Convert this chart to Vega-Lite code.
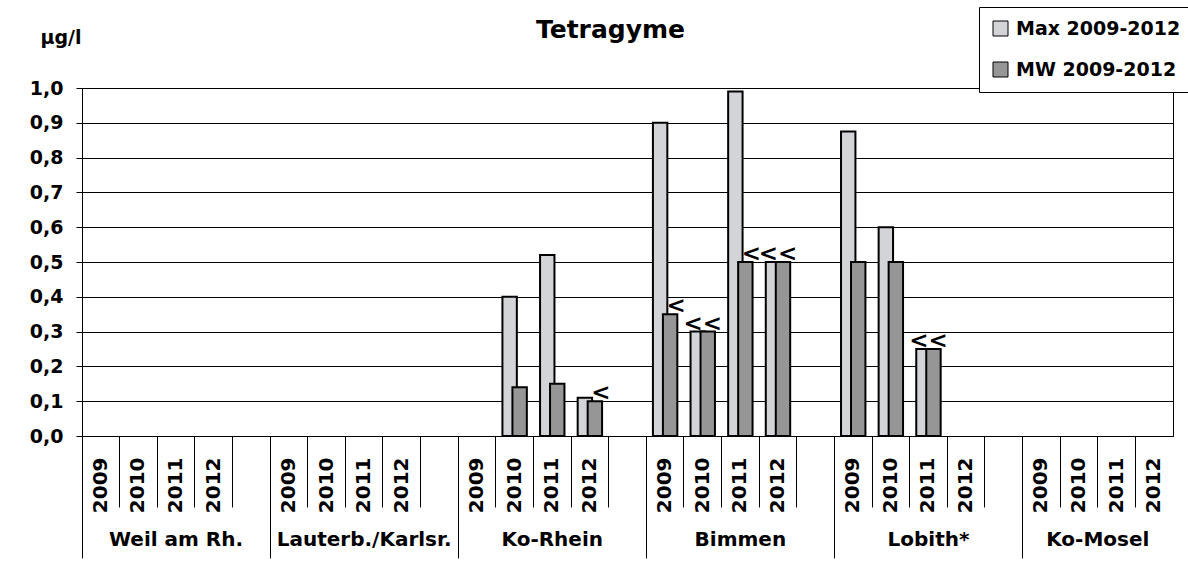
{
  "$schema": "https://vega.github.io/schema/vega-lite/v6.json",
  "width": 1091,
  "height": 348,
  "autosize": {"type": "none"},
  "padding": {"left": 82, "top": 88, "right": 15, "bottom": 131},
  "background": "white",
  "title": {"text": "Tetragyme", "font": "DejaVu Sans", "fontSize": 25, "fontWeight": "bold", "color": "black", "anchor": "middle", "dx": -17, "baseline": "alphabetic", "offset": 0, "dy": 56},
  "config": {"font": "DejaVu Sans", "view": {"stroke": "black", "strokeWidth": 1}},
  "data": {"values": [
    {"slot": "Ko-Rhein|2010", "series": "Max 2009-2012", "value": 0.40, "lt": ""},
    {"slot": "Ko-Rhein|2010", "series": "MW 2009-2012", "value": 0.14, "lt": ""},
    {"slot": "Ko-Rhein|2011", "series": "Max 2009-2012", "value": 0.52, "lt": ""},
    {"slot": "Ko-Rhein|2011", "series": "MW 2009-2012", "value": 0.15, "lt": ""},
    {"slot": "Ko-Rhein|2012", "series": "Max 2009-2012", "value": 0.11, "lt": ""},
    {"slot": "Ko-Rhein|2012", "series": "MW 2009-2012", "value": 0.10, "lt": "<"},
    {"slot": "Bimmen|2009", "series": "Max 2009-2012", "value": 0.90, "lt": ""},
    {"slot": "Bimmen|2009", "series": "MW 2009-2012", "value": 0.35, "lt": "<"},
    {"slot": "Bimmen|2010", "series": "Max 2009-2012", "value": 0.30, "lt": ""},
    {"slot": "Bimmen|2010", "series": "MW 2009-2012", "value": 0.30, "lt": "<<"},
    {"slot": "Bimmen|2011", "series": "Max 2009-2012", "value": 0.99, "lt": ""},
    {"slot": "Bimmen|2011", "series": "MW 2009-2012", "value": 0.50, "lt": "<"},
    {"slot": "Bimmen|2012", "series": "Max 2009-2012", "value": 0.50, "lt": ""},
    {"slot": "Bimmen|2012", "series": "MW 2009-2012", "value": 0.50, "lt": "<<"},
    {"slot": "Lobith*|2009", "series": "Max 2009-2012", "value": 0.875, "lt": ""},
    {"slot": "Lobith*|2009", "series": "MW 2009-2012", "value": 0.50, "lt": ""},
    {"slot": "Lobith*|2010", "series": "Max 2009-2012", "value": 0.60, "lt": ""},
    {"slot": "Lobith*|2010", "series": "MW 2009-2012", "value": 0.50, "lt": ""},
    {"slot": "Lobith*|2011", "series": "Max 2009-2012", "value": 0.25, "lt": ""},
    {"slot": "Lobith*|2011", "series": "MW 2009-2012", "value": 0.25, "lt": "<<"}
  ]},
  "layer": [
    {
      "transform": [{"filter": "datum.series == 'Max 2009-2012'"}],
      "mark": {"type": "bar", "width": {"band": 0.383}, "xOffset": -5, "stroke": "black", "strokeWidth": 2},
      "encoding": {
        "x": {"field": "slot", "type": "nominal",
          "scale": {"domain": [
            "Weil am Rh.|2009","Weil am Rh.|2010","Weil am Rh.|2011","Weil am Rh.|2012","Weil am Rh.|",
            "Lauterb./Karlsr.|2009","Lauterb./Karlsr.|2010","Lauterb./Karlsr.|2011","Lauterb./Karlsr.|2012","Lauterb./Karlsr.|",
            "Ko-Rhein|2009","Ko-Rhein|2010","Ko-Rhein|2011","Ko-Rhein|2012","Ko-Rhein|",
            "Bimmen|2009","Bimmen|2010","Bimmen|2011","Bimmen|2012","Bimmen|",
            "Lobith*|2009","Lobith*|2010","Lobith*|2011","Lobith*|2012","Lobith*|",
            "Ko-Mosel|2009","Ko-Mosel|2010","Ko-Mosel|2011","Ko-Mosel|2012"],
            "paddingInner": 0, "paddingOuter": 0},
          "axis": {"orient": "bottom", "title": null, "labels": false, "ticks": true, "tickSize": 71, "tickColor": "black", "tickWidth": 1, "bandPosition": 0, "tickExtra": false, "domain": true, "domainColor": "black", "domainWidth": 1, "grid": false}
        },
        "y": {"field": "value", "type": "quantitative", "scale": {"domain": [0, 1], "nice": false},
          "axis": {"orient": "left", "title": "µg/l", "titleAngle": 0, "titleAlign": "left", "titleBaseline": "alphabetic", "titleX": -42, "titleY": -45,
            "titleFont": "DejaVu Sans", "titleFontWeight": "bold", "titleFontSize": 19, "titleColor": "black",
            "values": [0, 0.1, 0.2, 0.3, 0.4, 0.5, 0.6, 0.7, 0.8, 0.9, 1.0], "labelOverlap": false,
            "labelExpr": "replace(format(datum.value, '.1f'), '.', ',')",
            "labelFont": "DejaVu Sans", "labelFontSize": 19, "labelFontWeight": "bold", "labelColor": "black", "labelPadding": 13,
            "tickSize": 6, "tickColor": "black", "domainColor": "black", "grid": true, "gridColor": "black", "gridWidth": 1, "gridOpacity": 1}
        },
        "color": {"field": "series", "type": "nominal",
          "scale": {"domain": ["Max 2009-2012", "MW 2009-2012"], "range": ["#d3d4d8", "#969696"]},
          "legend": {"orient": "none", "legendX": 897, "legendY": -81, "title": null, "symbolType": "square", "symbolSize": 225,
            "symbolStrokeColor": "black", "symbolStrokeWidth": 1, "symbolOpacity": 1,
            "labelFont": "DejaVu Sans", "labelFontWeight": "bold", "labelFontSize": 19, "labelColor": "black", "labelOffset": 6, "labelLimit": 400,
            "rowPadding": 21, "padding": 12, "strokeColor": "black", "fillColor": "white"}
        }
      }
    },
    {
      "transform": [{"filter": "datum.series == 'MW 2009-2012'"}],
      "mark": {"type": "bar", "width": {"band": 0.383}, "xOffset": 5, "stroke": "black", "strokeWidth": 2},
      "encoding": {
        "x": {"field": "slot", "type": "nominal",
          "axis": {"orient": "bottom", "title": null, "labels": false, "ticks": true, "tickSize": 122, "tickColor": "black", "tickWidth": 1, "bandPosition": 0, "tickExtra": false, "domain": false, "grid": false,
            "values": ["Weil am Rh.|2009","Lauterb./Karlsr.|2009","Ko-Rhein|2009","Bimmen|2009","Lobith*|2009","Ko-Mosel|2009"]}
        },
        "y": {"field": "value", "type": "quantitative", "axis": null},
        "color": {"field": "series", "type": "nominal"}
      }
    },
    {
      "transform": [{"filter": "datum.lt == '<'"}],
      "mark": {"type": "text", "font": "DejaVu Sans", "fontWeight": "bold", "fontSize": 23, "baseline": "middle", "dy": -8, "xOffset": 11, "color": "black"},
      "encoding": {
        "x": {"field": "slot", "type": "nominal",
          "axis": {"orient": "bottom", "title": null, "ticks": false, "tickSize": 0, "domain": false, "grid": false, "labelAngle": 270, "labelAlign": "right", "labelBaseline": "middle",
            "labelPadding": 21, "labelExpr": "split(datum.value, '|')[1]", "labelFont": "DejaVu Sans", "labelFontSize": 20, "labelFontWeight": "bold", "labelColor": "black", "labelOverlap": false}
        },
        "y": {"field": "value", "type": "quantitative", "axis": null},
        "text": {"field": "lt"}
      }
    },
    {
      "transform": [{"filter": "datum.lt == '<<'"}],
      "mark": {"type": "text", "font": "DejaVu Sans", "fontWeight": "bold", "fontSize": 23, "baseline": "middle", "dy": -8, "color": "black"},
      "encoding": {
        "x": {"field": "slot", "type": "nominal",
          "axis": {"orient": "bottom", "title": null, "ticks": false, "tickSize": 0, "domain": false, "grid": false, "labelAngle": 0, "labelAlign": "center", "labelBaseline": "middle",
            "labelPadding": 103, "labelExpr": "split(datum.value, '|')[0]", "labelFont": "DejaVu Sans", "labelFontSize": 20, "labelFontWeight": "bold", "labelColor": "black",
            "labelOverlap": false, "labelBound": false, "labelLimit": 400,
            "labelOffset": {"condition": {"test": "datum.value == 'Ko-Mosel|2011'", "value": -18.8}, "value": 0},
            "values": ["Weil am Rh.|2011","Lauterb./Karlsr.|2011","Ko-Rhein|2011","Bimmen|2011","Lobith*|2011","Ko-Mosel|2011"]}
        },
        "y": {"field": "value", "type": "quantitative", "axis": null},
        "text": {"field": "lt"}
      }
    }
  ],
  "resolve": {"axis": {"x": "independent", "y": "independent"}}
}
